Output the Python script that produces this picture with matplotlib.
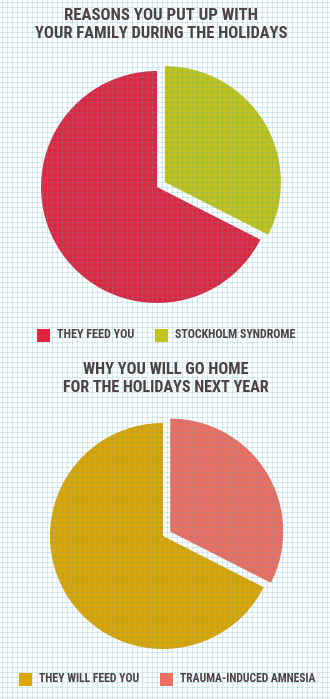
import matplotlib
matplotlib.use("Agg")
import matplotlib.pyplot as plt
from matplotlib import font_manager
from matplotlib.patches import Rectangle
import numpy as np

# Data
titulo1 = ["REASONS YOU PUT UP WITH", "YOUR FAMILY DURING THE HOLIDAYS"]
rotulos1 = ["THEY FEED YOU", "STOCKHOLM SYNDROME"]
valores1 = [67.5, 32.5]
cores1 = ["#e0263f", "#c3c41b"]

titulo2 = ["WHY YOU WILL GO HOME", "FOR THE HOLIDAYS NEXT YEAR"]
rotulos2 = ["THEY WILL FEED YOU", "TRAUMA-INDUCED AMNESIA"]
valores2 = [67.5, 32.5]
cores2 = ["#dea400", "#ef6e60"]

W, H = 330, 699
COR_TEXTO = "#4b4242"

# escolhe uma fonte estreita, se houver
nomes = {(f.name, f.stretch) for f in font_manager.fontManager.ttflist}
nomes_simples = {n for n, _ in nomes}
if "Liberation Sans Narrow" in nomes_simples:
    FONTE, ESTICA = "Liberation Sans Narrow", "normal"
elif "Roboto Condensed" in nomes_simples:
    FONTE, ESTICA = "Roboto Condensed", "normal"
elif any(n == "DejaVu Sans" and s == "condensed" for n, s in nomes):
    FONTE, ESTICA = "DejaVu Sans", "condensed"
else:
    FONTE, ESTICA = "Roboto", "normal"

fig = plt.figure(figsize=(W / 100, H / 100), dpi=100)
fig.patch.set_facecolor("white")
renderer = fig.canvas.get_renderer()


def px_axes(x0, y0, w, h, z=0):
    # x0, y0 = canto superior esquerdo em pixels
    return fig.add_axes([x0 / W, 1 - (y0 + h) / H, w / W, h / H], zorder=z)


def desenha_pizza(cx, cy, r, valores, cores, explode):
    ax = px_axes(cx - r, cy - r, 2 * r, 2 * r, z=1)
    fatias, _ = ax.pie(valores, colors=cores, startangle=90,
                       explode=[0, explode], radius=1,
                       wedgeprops=dict(linewidth=0))
    for f in fatias:
        f.set_clip_on(False)
    ax.set_xlim(-1, 1)
    ax.set_ylim(-1, 1)
    ax.set_aspect("auto")
    ax.axis("off")
    return fatias


desenha_pizza(157, 187, 116, valores1, cores1, 0.08)
desenha_pizza(163, 536, 113, valores2, cores2, 0.075)

# papel quadriculado por cima (deixa a grade aparecer nas fatias)
grade = px_axes(0, 0, W, H, z=2)
grade.set_xlim(0, W)
grade.set_ylim(H, 0)
grade.patch.set_alpha(0)
for x in np.arange(2, W, 5):
    grade.axvline(x, color="#4aa6c0", alpha=0.21, linewidth=0.8)
for y in np.arange(2, H, 5):
    grade.axhline(y, color="#4aa6c0", alpha=0.21, linewidth=0.8)
grade.axis("off")


def texto(x, y, s, largura, tam_max, ha="center"):
    # ajusta o tamanho da fonte para a largura medida na imagem
    t = fig.text(x / W, 1 - y / H, s, color=COR_TEXTO, family=FONTE,
                 fontstretch=ESTICA, fontweight="heavy", zorder=5,
                 fontsize=10, ha=ha, va="center")
    w = t.get_window_extent(renderer).width
    t.set_fontsize(min(tam_max, 10 * largura / w))
    return t


# titulos
texto(161, 16, titulo1[0], 193, 13)
texto(161, 33, titulo1[1], 252, 13)
texto(166, 370, titulo2[0], 165, 13)
texto(166, 387, titulo2[1], 206, 13)


def legenda(y, xs, larguras, rotulos, cores):
    for x, lg, rot, cor in zip(xs, larguras, rotulos, cores):
        fig.add_artist(Rectangle((x / W, 1 - (y + 7) / H), 13 / W, 13 / H,
                                 transform=fig.transFigure, facecolor=cor,
                                 edgecolor="none", zorder=5))
        texto(x + 20, y, rot, lg, 10.5, ha="left")


legenda(335, [37, 155], [77, 122], rotulos1, cores1)
legenda(679, [19, 160], [101, 136], rotulos2, cores2)

fig.savefig("out.png", dpi=100, facecolor="white")
